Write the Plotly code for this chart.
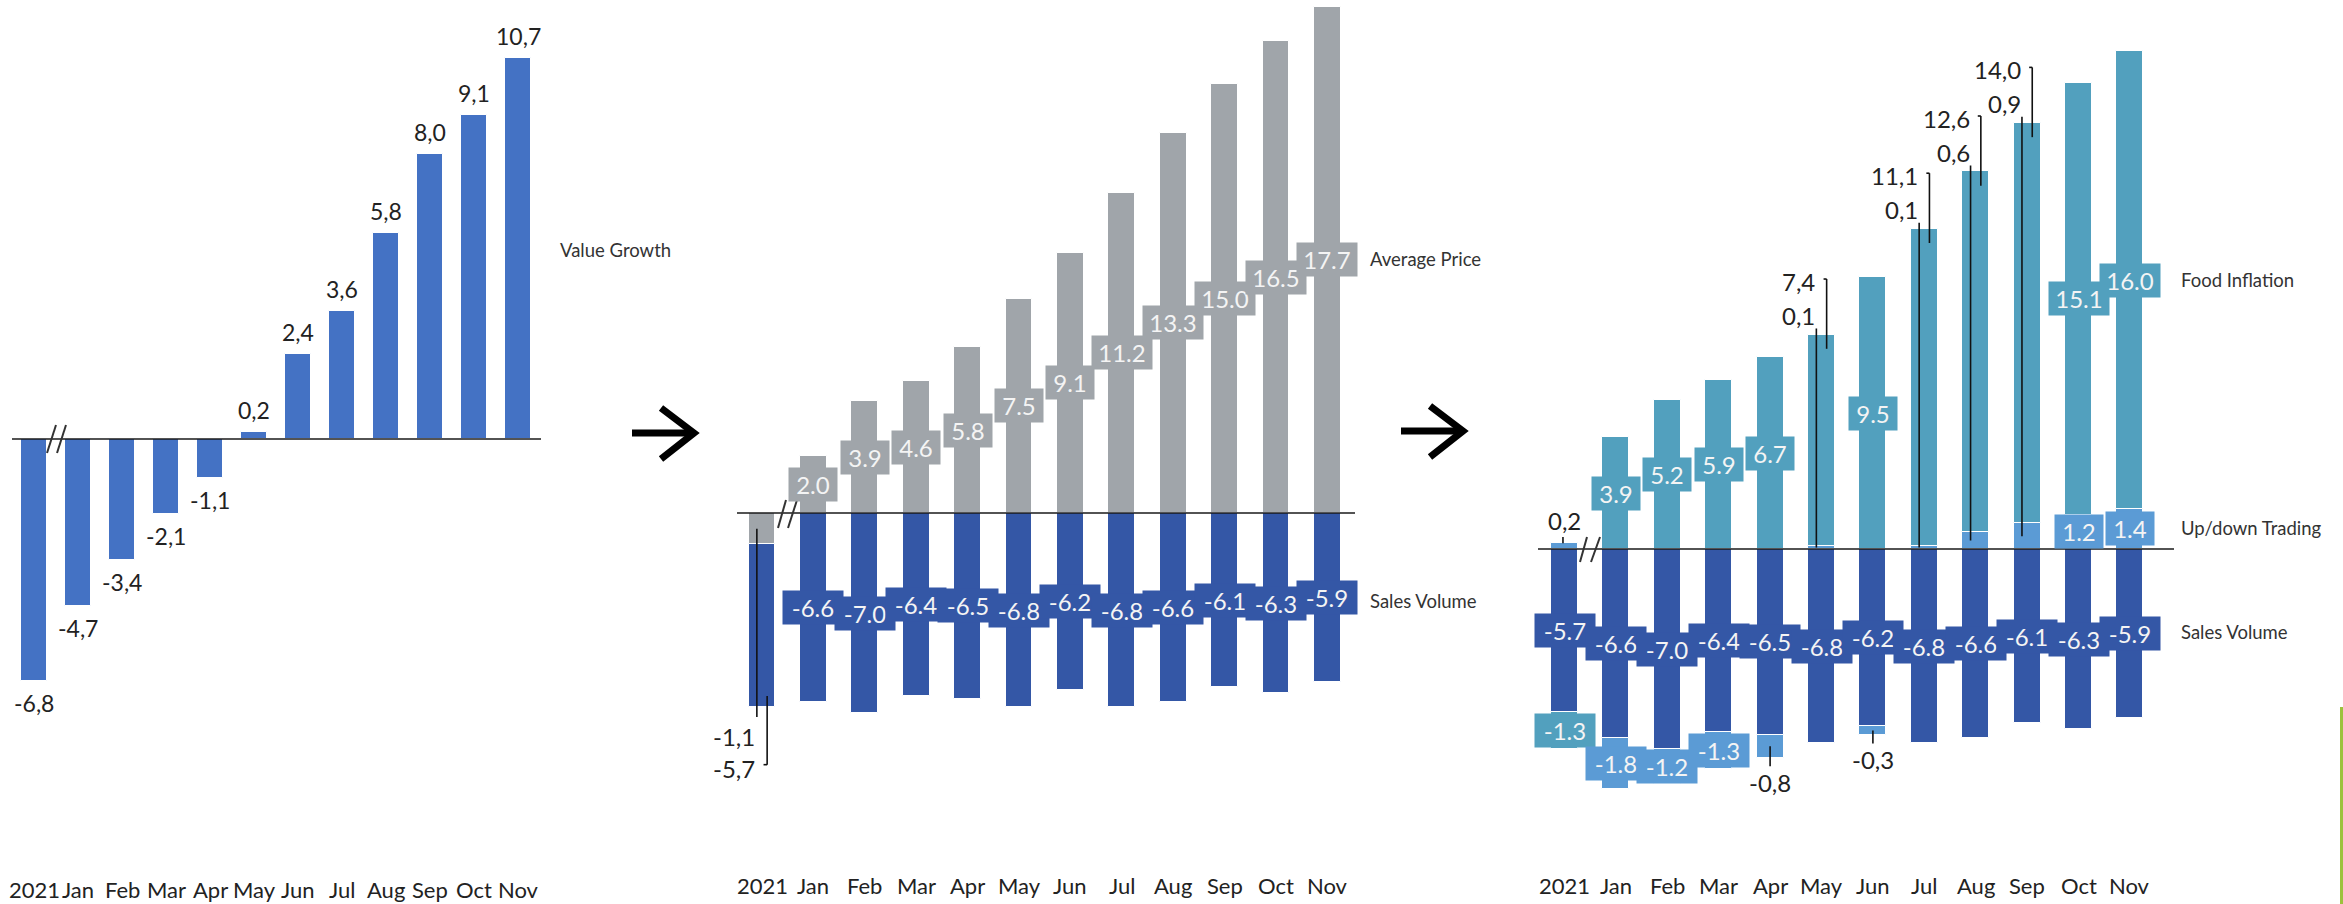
import plotly.graph_objects as go

# ---------------- data ----------------
categories = ["2021", "Jan", "Feb", "Mar", "Apr", "May", "Jun", "Jul", "Aug", "Sep", "Oct", "Nov"]
value_growth = [-6.8, -4.7, -3.4, -2.1, -1.1, 0.2, 2.4, 3.6, 5.8, 8.0, 9.1, 10.7]
average_price = [-1.1, 2.0, 3.9, 4.6, 5.8, 7.5, 9.1, 11.2, 13.3, 15.0, 16.5, 17.7]
sales_volume = [-5.7, -6.6, -7.0, -6.4, -6.5, -6.8, -6.2, -6.8, -6.6, -6.1, -6.3, -5.9]
food_inflation = [-1.3, 3.9, 5.2, 5.9, 6.7, 7.4, 9.5, 11.1, 12.6, 14.0, 15.1, 16.0]
updown_trading = [0.2, -1.8, -1.2, -1.3, -0.8, 0.1, -0.3, 0.1, 0.6, 0.9, 1.2, 1.4]
series_names_1 = ["Value Growth"]
series_names_2 = ["Average Price", "Sales Volume"]
series_names_3 = ["Food Inflation", "Up/down Trading", "Sales Volume"]

# ---------------- styling ----------------
W, H = 2343, 904
BLUE1 = "#4472c4"
GRAY = "#a0a5aa"
NAVY = "#3457a6"
TEAL = "#52a0be"
LIGHT = "#5b9bd5"
INK = "#222222"
BOXTXT = "#f4f4f4"
FONT = "Lato"

x = list(range(len(categories)))


def pxx(p):
    return p / W


def pxy(p):
    return 1 - p / H


panels = {
    1: dict(x0=12, x1=541, c0=34, step=44.0, base=439, ppu=35.6),
    2: dict(x0=737, x1=1355, c0=762, step=51.4, base=513, ppu=28.6),
    3: dict(x0=1538, x1=2174, c0=1564.5, step=51.4, base=549, ppu=28.6),
}


def comma(v):
    return f"{v:.1f}".replace(".", ",")


def dot(v):
    return f"{v:.1f}"


fig = go.Figure()
line_w = dict(color="white", width=1)

fig.add_bar(x=x, y=value_growth, width=0.57, marker=dict(color=BLUE1, line=line_w),
            xaxis="x", yaxis="y", name=series_names_1[0])
fig.add_bar(x=x, y=average_price, width=0.52, marker=dict(color=GRAY, line=line_w),
            xaxis="x2", yaxis="y2", name=series_names_2[0])
fig.add_bar(x=x, y=sales_volume, width=0.52, marker=dict(color=NAVY, line=line_w),
            xaxis="x2", yaxis="y2", name=series_names_2[1])
fig.add_bar(x=x, y=sales_volume, width=0.525, marker=dict(color=NAVY, line=line_w),
            xaxis="x3", yaxis="y3", name=series_names_3[2])
fig.add_bar(x=x, y=updown_trading, width=0.525, marker=dict(color=LIGHT, line=line_w),
            xaxis="x3", yaxis="y3", name=series_names_3[1])
fig.add_bar(x=x, y=food_inflation, width=0.525, marker=dict(color=TEAL, line=line_w),
            xaxis="x3", yaxis="y3", name=series_names_3[0])

annotations = []
shapes = []

BOX_FONT = 24
LBL_FONT = 24


def box(n, xv, yv, text, bg):
    annotations.append(dict(
        x=xv, y=yv, xref=f"x{n}" if n > 1 else "x", yref=f"y{n}" if n > 1 else "y",
        text=text, showarrow=False, bgcolor=bg, borderpad=0,
        width=12 * len(text) + 12, height=33,
        font=dict(family=FONT, size=BOX_FONT, color=BOXTXT),
        xanchor="center", yanchor="middle"))


def label(n, xv, yv, text, xanchor="center", size=LBL_FONT, yshift=0):
    annotations.append(dict(
        x=xv, y=yv, xref=f"x{n}" if n > 1 else "x", yref=f"y{n}" if n > 1 else "y",
        text=text, showarrow=False, yshift=yshift,
        font=dict(family=FONT, size=size, color=INK),
        xanchor=xanchor, yanchor="middle"))


def seg(n, xa, ya, xb, yb, width=1.6):
    shapes.append(dict(type="line", xref=f"x{n}" if n > 1 else "x",
                       yref=f"y{n}" if n > 1 else "y",
                       x0=xa, y0=ya, x1=xb, y1=yb,
                       line=dict(color="#111111", width=width)))


# ---------- panel 1 labels ----------
for i, v in enumerate(value_growth):
    label(1, i, v, comma(v), size=23, yshift=22 if v >= 0 else -22)

# ---------- panel 2 labels ----------
for i in x:
    ap, sv = average_price[i], sales_volume[i]
    if ap >= 0:
        box(2, i, ap / 2, dot(ap), GRAY)
        box(2, i, sv / 2, dot(sv), NAVY)
    else:
        bottom = ap + sv
        seg(2, i - 0.1, ap / 2, i - 0.1, bottom - 0.33)
        label(2, i - 0.1, bottom - 1.0, comma(ap), xanchor="right")
        seg(2, i + 0.1, bottom + 0.4, i + 0.1, bottom - 2.0)
        seg(2, i + 0.03, bottom - 2.0, i + 0.1, bottom - 2.0)
        label(2, i - 0.1, bottom - 2.12, comma(sv), xanchor="right")

# ---------- panel 3 labels ----------
for i in x:
    sv, ud, fi = sales_volume[i], updown_trading[i], food_inflation[i]
    box(3, i, sv / 2, dot(sv), NAVY)
    neg_bottom, pos_top = sv, 0.0
    if ud >= 0:
        ud_lo, ud_hi = 0.0, ud
        pos_top = ud
    else:
        ud_lo, ud_hi = sv + ud, sv
        neg_bottom = sv + ud
    if fi >= 0:
        fi_lo, fi_hi = pos_top, pos_top + fi
    else:
        fi_lo, fi_hi = neg_bottom + fi, neg_bottom
    food_external = 0 < ud < 1 and fi > 0
    if not food_external:
        box(3, i, (fi_lo + fi_hi) / 2, dot(fi), TEAL)
    if abs(ud) >= 1:
        box(3, i, (ud_lo + ud_hi) / 2, dot(ud), LIGHT)
    elif food_external:
        top = fi_hi
        label(3, i - 0.08, top + 1.86, comma(fi), xanchor="right")
        seg(3, i + 0.1, top + 1.94, i + 0.1, top - 0.5)
        seg(3, i + 0.04, top + 1.94, i + 0.1, top + 1.94)
        label(3, i - 0.08, top + 0.68, comma(ud), xanchor="right")
        seg(3, i - 0.1, top + 0.21, i - 0.1, ud / 2)
    elif ud > 0:
        label(3, i, ud_hi + 0.78, comma(ud))
        seg(3, i - 0.03, ud_hi + 0.22, i - 0.03, ud_hi)
    else:
        seg(3, i, (ud_lo + ud_hi) / 2, i, ud_lo - 0.3)
        label(3, i, ud_lo - 0.85, comma(ud))

# ---------- category labels ----------
cat_y = {1: 889, 2: 885, 3: 885}
for n in (1, 2, 3):
    for i, c in enumerate(categories):
        annotations.append(dict(
            x=i, y=pxy(cat_y[n]), xref=f"x{n}" if n > 1 else "x", yref="paper",
            text=c, showarrow=False, font=dict(family=FONT, size=22, color=INK),
            xanchor="center", yanchor="middle"))


# ---------- series names ----------
def sname(px, py, text):
    annotations.append(dict(x=pxx(px), y=pxy(py), xref="paper", yref="paper",
                            text=text, showarrow=False, xanchor="left", yanchor="middle",
                            font=dict(family=FONT, size=18.5, color="#333333")))


sname(558, 250, series_names_1[0])
sname(1368, 259, series_names_2[0])
sname(1368, 601, series_names_2[1])
sname(2179, 280, series_names_3[0])
sname(2179, 528, series_names_3[1])
sname(2179, 632, series_names_3[2])

# ---------- baselines ----------
for n in (1, 2, 3):
    shapes.append(dict(type="line", xref=f"x{n} domain" if n > 1 else "x domain",
                       yref=f"y{n}" if n > 1 else "y", x0=0, x1=1, y0=0, y1=0,
                       line=dict(color="#1a1a1a", width=1.6)))

# ---------- break marks ----------
breaks = [((47, 453, 56, 425), (57, 453, 66, 425)),
          ((778, 528, 786, 500), (788, 528, 797, 500)),
          ((1580, 562, 1587, 537), (1591, 562, 1600, 537))]
for pair in breaks:
    for (a, b, c, d) in pair:
        shapes.append(dict(type="line", xref="paper", yref="paper",
                           x0=pxx(a), y0=pxy(b), x1=pxx(c), y1=pxy(d),
                           line=dict(color="#333333", width=2)))

# ---------- arrows ----------
for (sx, ex, yy) in [(632, 694, 433), (1401, 1463, 431)]:
    shapes.append(dict(type="line", xref="paper", yref="paper",
                       x0=pxx(sx), y0=pxy(yy), x1=pxx(ex - 2), y1=pxy(yy),
                       line=dict(color="black", width=7)))
    hx = ex - 33
    path = (f"M {pxx(hx)},{pxy(yy - 25)} L {pxx(ex)},{pxy(yy)} "
            f"L {pxx(hx)},{pxy(yy + 26)}")
    shapes.append(dict(type="path", xref="paper", yref="paper", path=path,
                       line=dict(color="black", width=7)))

# ---------- green edge line ----------
shapes.append(dict(type="rect", xref="paper", yref="paper",
                   x0=pxx(2340), x1=1, y0=0, y1=pxy(707),
                   fillcolor="#9cc23c", line=dict(width=0)))

layout_axes = {}
for n, p in panels.items():
    xr = [(p["x0"] - p["c0"]) / p["step"], (p["x1"] - p["c0"]) / p["step"]]
    yr = [-(H - p["base"]) / p["ppu"], p["base"] / p["ppu"]]
    xk = "xaxis" if n == 1 else f"xaxis{n}"
    yk = "yaxis" if n == 1 else f"yaxis{n}"
    layout_axes[xk] = dict(domain=[pxx(p["x0"]), pxx(p["x1"])], range=xr,
                           anchor="y" if n == 1 else f"y{n}",
                           showgrid=False, zeroline=False, showticklabels=False,
                           showline=False, ticks="", fixedrange=True)
    layout_axes[yk] = dict(domain=[0, 1], range=yr,
                           anchor="x" if n == 1 else f"x{n}",
                           showgrid=False, zeroline=False, showticklabels=False,
                           showline=False, ticks="", fixedrange=True)

fig.update_layout(
    width=W, height=H, margin=dict(l=0, r=0, t=0, b=0),
    paper_bgcolor="white", plot_bgcolor="white",
    barmode="relative", bargap=0, showlegend=False,
    annotations=annotations, shapes=shapes,
    font=dict(family=FONT, color=INK),
    **layout_axes,
)

fig.write_html(
    "out.html",
    config={"displayModeBar": False},
    post_script="document.body.style.margin='0';document.body.style.overflow='hidden';"
                "document.documentElement.style.overflow='hidden';",
)
